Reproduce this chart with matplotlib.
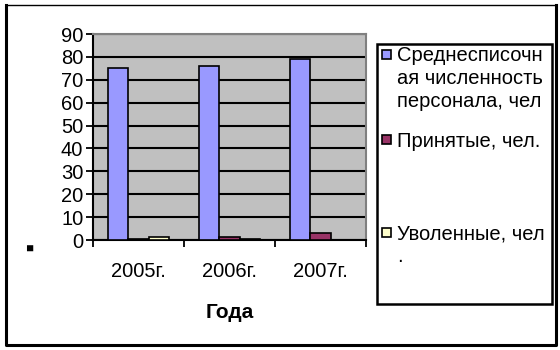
import matplotlib.pyplot as plt
import numpy as np
from matplotlib.patches import Rectangle
from matplotlib.lines import Line2D

plt.rcParams['font.family'] = ['Liberation Sans', 'DejaVu Sans']

years = ['2005г.', '2006г.', '2007г.']
staff = [75, 76, 79]
hired = [0.5, 1.5, 3]
fired = [1.5, 0.5, 0]
series_names = ['Среднесписочн\nая численность\nперсонала, чел', 'Принятые, чел.', 'Уволенные, чел\n.']
colors = ['#9999FF', '#993366', '#FFFFCC']

fig = plt.figure(figsize=(5.6, 3.5), dpi=100)
ax = fig.add_axes([93/560, 1-240/350, (366-93)/560, (240-34)/350])
ax.set_facecolor('#C0C0C0')

x = np.arange(len(years))
w = 1/4.5
for i, vals in enumerate([staff, hired, fired]):
    ax.bar(x + (i-1)*w, vals, w, color=colors[i], edgecolor='black', linewidth=1.2, zorder=3)

ax.set_xlim(-0.5, 2.5)
ax.set_ylim(0, 90)
ax.set_yticks(range(0, 91, 10))
ax.yaxis.grid(True, color='black', linewidth=1.5, zorder=1)
ax.set_axisbelow(True)

ax.set_xticks([-0.5, 0.5, 1.5, 2.5])
ax.set_xticklabels([])
ax.set_xticks(x, minor=True)
ax.set_xticklabels(years, minor=True)
ax.tick_params(axis='x', which='minor', length=0, pad=16, labelsize=14.5)
ax.tick_params(axis='x', which='major', length=5, width=1.3, direction='out')
ax.tick_params(axis='y', length=5, width=1.3, direction='out', labelsize=14.5, pad=2)

for s in ['top', 'right']:
    ax.spines[s].set_color('#808080')
    ax.spines[s].set_linewidth(1.5)
for s in ['left', 'bottom']:
    ax.spines[s].set_linewidth(1.5)

ax.set_xlabel('Года', fontsize=15, fontweight='bold', labelpad=16)

fig.text(31/560, 1-247/350, '■', fontsize=9, rotation=90, ha='center', va='center')

# legend box
fig.patches.append(Rectangle((377/560, 1-304/350), (552-377)/560, (304-44)/350,
                             transform=fig.transFigure, fill=False, edgecolor='black', linewidth=1.8))
sq_y = [54, 140, 232]
for c, name, yy in zip(colors, series_names, sq_y):
    fig.patches.append(Rectangle((382/560, 1-(yy+4.5)/350), 9/560, 9/350, transform=fig.transFigure,
                                 facecolor=c, edgecolor='black', linewidth=1.2))
    fig.text(397/560, 1-(yy-8)/350, name, fontsize=14.5, ha='left', va='top', linespacing=1.28)

# outer border: thin top, thicker other sides
fig.lines.append(Line2D([6/560, 556/560], [1-5/350, 1-5/350], transform=fig.transFigure,
                        color='black', linewidth=1))
fig.lines.append(Line2D([6/560, 6/560, 556/560, 556/560], [1-5/350, 1-345/350, 1-345/350, 1-5/350],
                        transform=fig.transFigure, color='black', linewidth=2.2))

fig.savefig('out.png', dpi=100)
